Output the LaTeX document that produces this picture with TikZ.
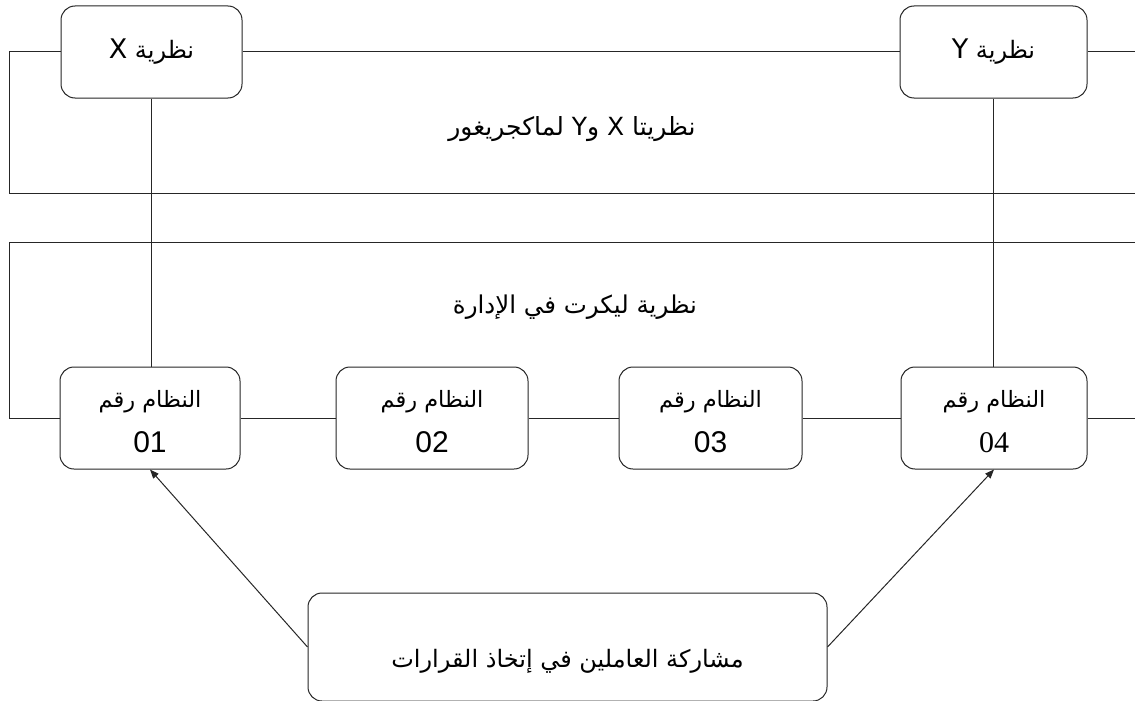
\documentclass[tikz,border=0pt]{standalone}
\usepackage{fontspec}
\setmainfont{Liberation Sans}
\newfontfamily\ar[Script=Arabic]{DejaVu Sans}
\newfontfamily\serifnum{Liberation Serif}
\TeXXeTstate=1
\usetikzlibrary{arrows.meta}
\begin{document}
\begin{tikzpicture}[x=1pt,y=-1pt,
  box/.style={draw=black!85, line width=1pt, rounded corners=14pt, minimum height=92pt, inner sep=0pt, align=center, fill=white},
  link/.style={draw=black!85, line width=1pt},
  arr/.style={link, -{Triangle[length=9pt,width=7pt]}},
  sysbox/.style={box, font=\fontsize{30}{30}\selectfont, minimum height=102pt},
  lblfont/.style={font=\fontsize{25}{28}\selectfont}]
\useasboundingbox (0,0) rectangle (1135,701);
\clip (0,0) rectangle (1135,701);
% top theory boxes
\node[box, font=\fontsize{24}{30}\selectfont, minimum width=181pt] (tx) at (151.5,52) {\ar\beginR نظرية {\fontsize{27}{30}\selectfont X}\endR};
\node[box, font=\fontsize{24}{30}\selectfont, minimum width=187pt] (ty) at (993.5,52) {\ar\beginR نظرية {\fontsize{27}{30}\selectfont Y}\endR};
% system boxes
\node[sysbox, minimum width=180pt] (s1) at (150,418) {\rule{0pt}{24pt}{\ar\fontsize{22.5}{30}\selectfont\beginR النظام رقم\endR}\\[15pt]01};
\node[sysbox, minimum width=192pt] (s2) at (432,418) {\rule{0pt}{24pt}{\ar\fontsize{22.5}{30}\selectfont\beginR النظام رقم\endR}\\[15pt]02};
\node[sysbox, minimum width=183pt] (s3) at (710.5,418) {\rule{0pt}{24pt}{\ar\fontsize{22.5}{30}\selectfont\beginR النظام رقم\endR}\\[15pt]03};
\node[sysbox, minimum width=186pt] (s4) at (994,418) {\rule{0pt}{24pt}{\ar\fontsize{22.5}{30}\selectfont\beginR النظام رقم\endR}\\[15pt]{\serifnum 04}};
% bottom box
\node[box, minimum width=519pt, minimum height=108pt] (pb) at (567.5,647) {};
\node[font=\fontsize{24}{28}\selectfont] (pt) at (567.5,661) {\ar\beginR مشاركة العاملين في إتخاذ القرارات\endR};
% frame labels
\node[lblfont] (lxy) at (572,129) {\ar\beginR نظريتا X و\hbox{Y} لماكجريغور\endR};
\node[font=\fontsize{24.5}{28}\selectfont] (lk) at (575,307) {\ar\beginR نظرية ليكرت في الإدارة\endR};
% free ends
\coordinate (a1) at (9,52);
\coordinate (a2) at (9,193);
\coordinate (a3) at (1145,193);
\coordinate (a4) at (1145,52);
\coordinate (b1) at (9,418);
\coordinate (b2) at (9,242);
\coordinate (b3) at (1145,242);
\coordinate (b4) at (1145,418);
% frame 1
\draw[link] (tx.west) -- (a1) -- (a2) -- (a3);
\draw[link] (tx.east) -- (ty.west);
\draw[link] (ty.east) -- (a4);
% frame 2
\draw[link] (s1.west) -- (b1) -- (b2) -- (b3);
\draw[link] (s1.east) -- (s2.west);
\draw[link] (s2.east) -- (s3.west);
\draw[link] (s3.east) -- (s4.west);
\draw[link] (s4.east) -- (b4);
% verticals
\draw[link] (tx.south) -- (tx.south |- s1.north);
\draw[link] (ty.south) -- (ty.south |- s4.north);
% arrows
\draw[arr] (pb.west) -- (s1.south);
\draw[arr] (pb.east) -- (s4.south);
\end{tikzpicture}
\end{document}
